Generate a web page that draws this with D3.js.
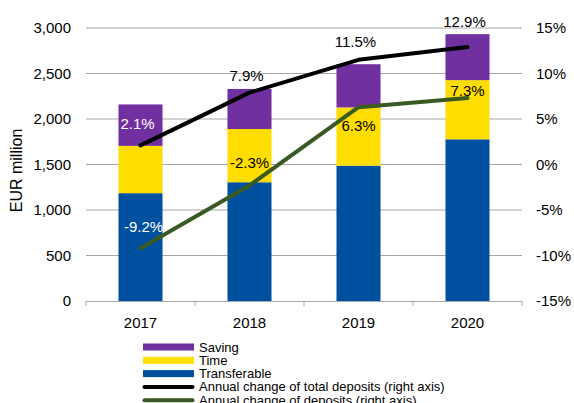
<!DOCTYPE html>
<html>
<head>
<meta charset="utf-8">
<script src="https://cdn.jsdelivr.net/npm/d3@7"></script>
<style>
  body { margin: 0; background: #fff; }
  text { font-family: "Liberation Sans", Arial, sans-serif; fill: #000; }
</style>
</head>
<body>
<script>
'use-strict';

// categories and series
let years = ["2017", "2018", "2019", "2020"];
let transferable = [1185, 1305, 1487, 1777];
let time = [520, 585, 640, 650];
let saving = [455, 440, 475, 505];
let totalChange = [2.1, 7.9, 11.5, 12.9];
let depositChange = [-9.2, -2.3, 6.3, 7.3];

// tick labels
let leftTicks = [0, 500, 1000, 1500, 2000, 2500, 3000];
let rightTicks = [-15, -10, -5, 0, 5, 10, 15];

// chart size
let width = 574, height = 403;
let margin = { top: 28, left: 86, bottom: 102, right: 52 };
let plotRight = width - margin.right;
let plotBottom = height - margin.bottom;

let svgContainer = d3.select("body")
  .append("svg")
  .attr("width", width)
  .attr("height", height);

let xScale = d3.scaleBand()
  .domain(years)
  .range([margin.left, plotRight])
  .paddingInner(0.596)
  .paddingOuter(0.298);

let yLeft = d3.scaleLinear().domain([0, 3000]).range([plotBottom, margin.top]);
let yRight = d3.scaleLinear().domain([-15, 15]).range([plotBottom, margin.top]);

// gridlines
svgContainer.append("g")
  .selectAll("line")
  .data(leftTicks.slice(1))
  .enter()
  .append("line")
  .attr("x1", margin.left)
  .attr("x2", plotRight)
  .attr("y1", d => yLeft(d))
  .attr("y2", d => yLeft(d))
  .attr("stroke", "#a6a6a6")
  .attr("stroke-width", 1);

// left axis labels
let leftAxis = d3.axisLeft(yLeft)
  .tickValues(leftTicks)
  .tickSize(0)
  .tickPadding(15)
  .tickFormat(d3.format(","));
svgContainer.append("g")
  .attr("transform", "translate(" + margin.left + ",0)")
  .call(leftAxis)
  .call(g => g.select(".domain").remove())
  .selectAll("text")
  .style("font-size", "15px")
  .style("font-family", "Liberation Sans, Arial, sans-serif")
  .attr("fill", "#000");

// right axis labels
let rightAxis = d3.axisRight(yRight)
  .tickValues(rightTicks)
  .tickSize(0)
  .tickPadding(14)
  .tickFormat(d => d + "%");
svgContainer.append("g")
  .attr("transform", "translate(" + plotRight + ",0)")
  .call(rightAxis)
  .call(g => g.select(".domain").remove())
  .selectAll("text")
  .style("font-size", "15px")
  .style("font-family", "Liberation Sans, Arial, sans-serif")
  .attr("fill", "#000");

// stacked bars
let stackData = years.map((y, i) => ({ year: y, transferable: transferable[i], time: time[i], saving: saving[i] }));
let keys = ["transferable", "time", "saving"];
let colors = { transferable: "#0050a0", time: "#ffdd00", saving: "#7030a0" };
let stacked = d3.stack().keys(keys)(stackData);

svgContainer.append("g")
  .selectAll("g")
  .data(stacked)
  .enter()
  .append("g")
  .attr("fill", d => colors[d.key])
  .selectAll("rect")
  .data(d => d)
  .enter()
  .append("rect")
  .attr("x", d => xScale(d.data.year))
  .attr("width", xScale.bandwidth())
  .attr("y", d => yLeft(d[1]))
  .attr("height", d => yLeft(d[0]) - yLeft(d[1]));

// bottom axis line and ticks at category boundaries
svgContainer.append("line")
  .attr("x1", margin.left)
  .attr("x2", plotRight)
  .attr("y1", plotBottom + 0.5)
  .attr("y2", plotBottom + 0.5)
  .attr("stroke", "#a6a6a6");
let step = xScale.step();
svgContainer.append("g")
  .selectAll("line")
  .data(d3.range(years.length + 1))
  .enter()
  .append("line")
  .attr("x1", i => margin.left + i * step)
  .attr("x2", i => margin.left + i * step)
  .attr("y1", plotBottom)
  .attr("y2", plotBottom + 5)
  .attr("stroke", "#a6a6a6");

svgContainer.append("g")
  .selectAll("text")
  .data(years)
  .enter()
  .append("text")
  .attr("x", d => xScale(d) + xScale.bandwidth() / 2)
  .attr("y", plotBottom + 27)
  .attr("text-anchor", "middle")
  .style("font-size", "15px")
  .text(d => d);

// lines
let cx = (d, i) => xScale(years[i]) + xScale.bandwidth() / 2;
let line = d3.line()
  .x(cx)
  .y(d => yRight(d));

svgContainer.append("path")
  .datum(totalChange)
  .attr("fill", "none")
  .attr("stroke", "#000")
  .attr("stroke-width", 4)
  .attr("stroke-linecap", "round")
  .attr("stroke-linejoin", "round")
  .attr("d", line);

svgContainer.append("path")
  .datum(depositChange)
  .attr("fill", "none")
  .attr("stroke", "#3a5a24")
  .attr("stroke-width", 4)
  .attr("stroke-linecap", "round")
  .attr("stroke-linejoin", "round")
  .attr("d", line);

// data labels
let fmt = d => d.toFixed(1) + "%";
let totalDy = [-16, -12, -13, -20];
let depositDy = [-16, -17, 24, -2];
let labelColor = i => (i === 0 ? "#fff" : "#000");

svgContainer.append("g")
  .selectAll("text")
  .data(totalChange)
  .enter()
  .append("text")
  .attr("x", (d, i) => cx(d, i) - 3)
  .attr("y", (d, i) => yRight(d) + totalDy[i])
  .attr("text-anchor", "middle")
  .style("font-size", "15px")
  .style("fill", (d, i) => labelColor(i))
  .text(fmt);

svgContainer.append("g")
  .selectAll("text")
  .data(depositChange)
  .enter()
  .append("text")
  .attr("x", (d, i) => cx(d, i) + (i === 0 ? 3 : 0))
  .attr("y", (d, i) => yRight(d) + depositDy[i])
  .attr("text-anchor", "middle")
  .style("font-size", "15px")
  .style("fill", (d, i) => labelColor(i))
  .text(fmt);

// y axis title
svgContainer.append("text")
  .attr("transform", "translate(22," + ((margin.top + plotBottom) / 2 + 6) + ") rotate(-90)")
  .attr("text-anchor", "middle")
  .style("font-size", "16px")
  .text("EUR million");

// legend
let legendItems = [
  { label: "Saving", color: colors.saving, type: "bar" },
  { label: "Time", color: colors.time, type: "bar" },
  { label: "Transferable", color: colors.transferable, type: "bar" },
  { label: "Annual change of total deposits (right axis)", color: "#000", type: "line" },
  { label: "Annual change of deposits (right axis)", color: "#3a5a24", type: "line" }
];
let legend = svgContainer.append("g")
  .attr("transform", "translate(143,347)");
let item = legend.selectAll("g")
  .data(legendItems)
  .enter()
  .append("g")
  .attr("transform", (d, i) => "translate(0," + (i * 13.3) + ")");
item.filter(d => d.type === "bar")
  .append("rect")
  .attr("x", 0)
  .attr("y", -3.5)
  .attr("width", 51)
  .attr("height", 7)
  .attr("fill", d => d.color);
item.filter(d => d.type === "line")
  .append("line")
  .attr("x1", 1.5)
  .attr("x2", 49.5)
  .attr("y1", 0)
  .attr("y2", 0)
  .attr("stroke", d => d.color)
  .attr("stroke-width", 4)
  .attr("stroke-linecap", "round");
item.append("text")
  .attr("x", 56)
  .attr("y", 4.5)
  .style("font-size", "13px")
  .text(d => d.label);
</script>
</body>
</html>
